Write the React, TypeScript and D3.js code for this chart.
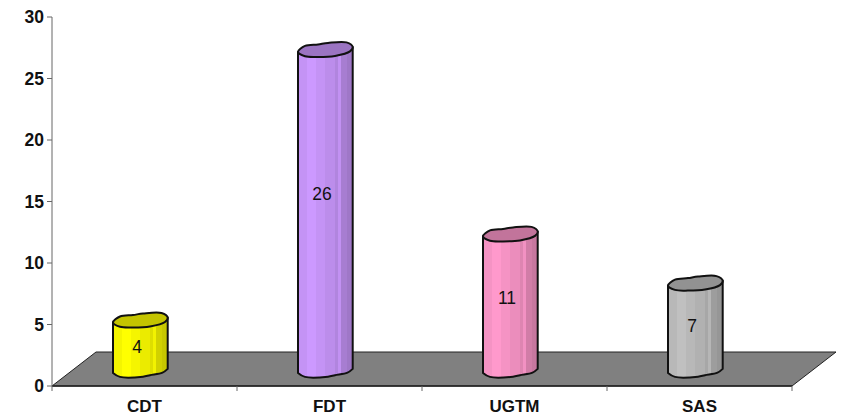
import React from "react";
import * as d3 from "d3";

const categories = ["CDT", "FDT", "UGTM", "SAS"];
const values = [4, 26, 11, 7];
const yTicks = [0, 5, 10, 15, 20, 25, 30];
const sideColors = ["#ffff00", "#cc99ff", "#ff99cc", "#c0c0c0"];
const capColors = ["#c4c400", "#9b74c2", "#c2749b", "#929292"];

const W = 843, H = 420;
const y = d3.scaleLinear().domain([0, 30]).range([386, 17]);
const x = d3.scaleBand().domain(categories).range([52, 792]);
const depthX = 44, depthY = 34;
const font = "'Liberation Sans', Arial, sans-serif";

// Irregular outline of the cylinder, relative to its centre
const capPts: [number, number][] = [[-27.5, 2.5], [-20.5, -3.5], [-7.5, -5], [2.5, -6.5], [21, -7], [27.2, -2.5], [24.5, 2], [9.5, 6.5], [-7.5, 7.5], [-20.5, 6.8]];
const bottomPts: [number, number][] = [[-27.5, 3.7], [-20.5, 7.7], [2.5, 7.5], [9.5, 6], [22, 3.5], [27.2, -0.3]];
const capLine = d3.line().curve(d3.curveCatmullRomClosed.alpha(0.5));
const bottomLine = d3.line().curve(d3.curveCatmullRom.alpha(0.5));

const shade = (c: string, t: number) => d3.interpolateRgb(c, "#000")(t);
const bands: [number, number][] = [[0, 0.04], [0.17, 0], [0.33, 0.04], [0.5, 0.08], [0.68, 0.13], [0.74, 0.05], [0.78, 0.18], [0.9, 0.22], [1, 0.3]];

export default function App() {
  return (
    <svg width={W} height={H} style={{ position: "absolute", left: 0, top: 0, background: "#fff" }}>
      <defs>
        {sideColors.map((c, i) => (
          <linearGradient key={i} id={`side${i}`} x1="0" x2="1" y1="0" y2="0">
            {bands.flatMap(([o, t], k) => {
              const next = k + 1 < bands.length ? bands[k + 1][0] : 1;
              return [
                <stop key={`${k}a`} offset={o} stopColor={shade(c, t)} />,
                <stop key={`${k}b`} offset={next} stopColor={shade(c, t)} />,
              ];
            })}
          </linearGradient>
        ))}
      </defs>

      <path
        d={`M${x.range()[0]},${y(0)}L${x.range()[0] + depthX},${y(0) - depthY}L${x.range()[1] + depthX},${y(0) - depthY}L${x.range()[1]},${y(0)}Z`}
        fill="#808080"
        stroke="#222"
        strokeWidth={1}
      />
      <line x1={52} x2={792} y1={y(0)} y2={y(0)} stroke="#222" strokeWidth={1.5} />
      <line x1={52} x2={52} y1={y(30)} y2={y(0)} stroke="#666" strokeWidth={1} />
      {yTicks.map((t) => (
        <g key={t}>
          <line x1={47} x2={52} y1={y(t)} y2={y(t)} stroke="#666" />
          <text x={44} y={y(t) + 6} textAnchor="end" fontFamily={font} fontWeight="bold" fontSize={17.5} fill="#111">{t}</text>
        </g>
      ))}
      {[...categories.map((c) => x(c)!), 792].map((p, i) => (
        <line key={i} x1={p} x2={p} y1={y(0)} y2={y(0) + 5} stroke="#666" />
      ))}
      {categories.map((c, i) => {
        const bandCx = x(c)! + x.bandwidth() / 2;
        const cx = bandCx - 4;
        const baseY = y(0) - 16.8;
        const topY = baseY - (y(0) - y(values[i]));
        const cap = capLine(capPts.map(([a, b]) => [cx + a, topY + b]))!;
        const bottom = bottomLine(bottomPts.map(([a, b]) => [cx + a, baseY + b]))!;
        const body = `M${cx - 27.5},${topY + 2.5}L${cx - 27.5},${baseY + 3.7}${bottom.replace(/^M[^CL]+/, "")}L${cx + 27.2},${topY - 2.5}Z`;
        return (
          <g key={c}>
            <path d={body} fill={`url(#side${i})`} stroke="#111" strokeWidth={2} strokeLinejoin="round" />
            <path d={cap} fill={capColors[i]} stroke="#111" strokeWidth={2} strokeLinejoin="round" />
            <text x={cx - 3.5} y={y(0.94 + 0.564 * values[i]) + 6} textAnchor="middle" fontFamily={font} fontSize={17.5} fill="#111">{values[i]}</text>
            <text x={bandCx} y={412} textAnchor="middle" fontFamily={font} fontWeight="bold" fontSize={17} fill="#111">{c}</text>
          </g>
        );
      })}
    </svg>
  );
}
